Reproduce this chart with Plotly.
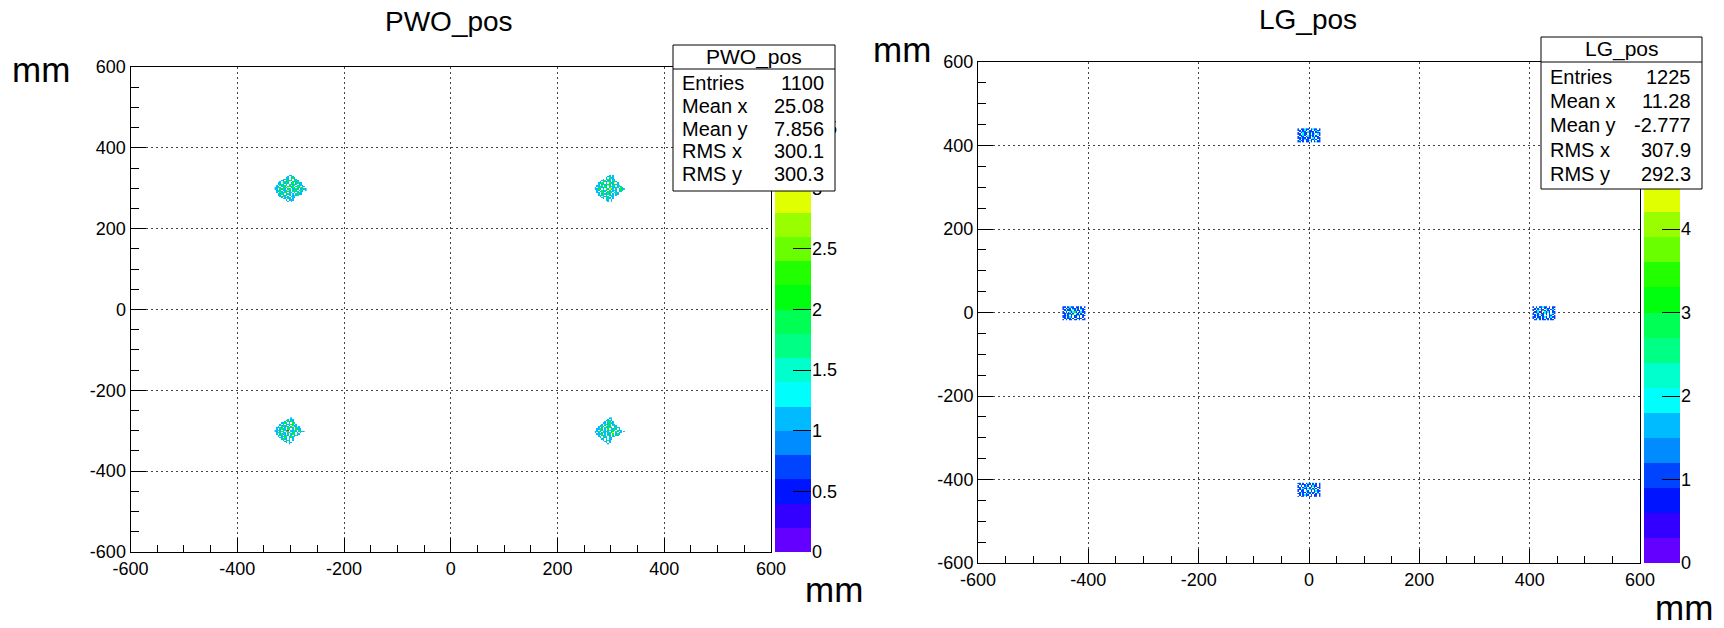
import plotly.graph_objects as go

W, H = 1724, 628
BIN = 3.0  # mm per histogram bin

# ---------------- data ----------------
# Spot patterns: bin counts read (approximately) off the picture, rows top -> bottom, '.' = empty bin
pwo_spot_a = [
    ".........11",
    "........1.21",
    ".......11.121",
    ".....1121.1.11",
    "....11.2121.121",
    "...1.12113.1211",
    "..11.2121.12.1211",
    "..1121.1.21121.11",
    ".1.21121.1312.1211",
    ".11.121.2112.121.11",
    "1121.1213.121.2121.",
    "11.2121.12.1121.1211",
    ".121.11231.121.121.1",
    ".1121.1211.2121.11",
    ".1.21121.11.1.121",
    "..1121.121.1.1211",
    "..11.211.1.1211",
    "...1121.1.211",
    "....1.1211.11",
    ".....11.21.1",
    ".......1.111",
    "........1.1",
]
pwo_spot_b = [
    ".........1.1",
    "........11.1",
    ".......1.211",
    ".....1.121.11",
    "....112.11.21",
    "...1.21121.121",
    "..1121.1.2113.1",
    "..1.121121.1211",
    ".11.2.1131.21.11",
    ".1121.21.1211.121",
    "1.121121.2.1121.21",
    "1121.1.21321.1.1211",
    ".11.2112.1.121.121",
    ".1.1211.2121.1.11",
    ".11.21.1121.121",
    "..1.121121.1.11",
    "..1121.1.121.1",
    "...1.2112.11",
    "....11.211.1",
    ".....1.121.1",
    ".......11.1",
    "........1.1",
]
pwo_spot_c = [
    "..........1",
    "........1.11",
    ".......11.21",
    "......1.2111.",
    "....1121.1.21",
    "...1.1.21121.1",
    "...11211.1.211",
    "..1.21121.1311.1",
    ".1121.1.2121.121",
    ".1.1211.21.1.2111",
    "1121.2114.1121.21.",
    "11.121.12.1121.1211",
    ".121.11.21312.1.1",
    ".1.1211.1.121.11",
    "..121.121.1.121",
    "..1.1121.1211",
    "...11.21.121",
    "....1211.1.1",
    ".....1.121.1",
    "......11.1",
    ".......1.11",
    ".........1",
]
pwo_spot_d = [
    ".........11",
    "........1.1",
    ".......1121",
    "......1.21.1",
    ".....11.1211",
    "....1.2112.11",
    "...11.1.21.121",
    "..1121.2113.11",
    "..1.1.21121.1211",
    ".1121.1.2.1121.1",
    ".1.2131.12121.211",
    "1121.1121.11.21.1.1",
    "1.1.121.1213.1.11",
    ".1121.1.11.2.121",
    "..1.211.21.1.11",
    "..11.121.1.11",
    "...1.211.21",
    "....11.1.11",
    ".....1.121",
    "......11.1",
    ".......1.1",
    "........1",
]
lg_spot_a = [
    "1.11211.1211.1",
    "11.121.11.1211",
    ".1211.2111.12.",
    "1.12113121.111",
    "11.211.1.12.21",
    ".1121.2131.1.1",
    "1.11.121.1211.",
    "11211.11.21.11",
    ".1.1211.1121.1",
    "1211.1121.1.11",
    "11.1.11.1.1211",
]
lg_spot_b = [
    "11.1211.11.1.1",
    "1.121.1121.11.",
    "11.11.21.1.211",
    ".12113.1211.1.",
    "1.1.21231.1211",
    "11211.1.21.1.1",
    ".1.1213.11211.",
    "1121.1.1121.11",
    "11.121.11.1.1.",
    ".1211.1.2111.1",
    "1.1.11.11.1.11",
]
lg_spot_c = [
    "1.1.11211.1.11",
    ".121.1.1211.1.",
    "11.1211.21.121",
    "1.12.131.11.1.",
    ".11216.2121.11",
    "1.21.1121.1.21",
    "11.1231.1.121.",
    ".121.11.2.11.1",
    "11.11.121.1211",
    "1.121.1.11.1.1",
    ".11.1.11.1.11.",
]
lg_spot_d = [
    "11.1.121.1.1.1",
    ".1211.11.121.1",
    "1.1.121.1211.1",
    "11.121.13.1.11",
    ".1.21121.121.1",
    "1121.1.2131.1.",
    "1.11.21.1.1211",
    ".1211.11211.1.",
    "11.1.121.1.121",
    ".1.1211.1.11.1",
    "1.11.1.11.11.1",
]

pwo_centers_x = [-300, 300, -300, 300]
pwo_centers_y = [300, 300, -300, -300]
pwo_spots = [pwo_spot_a, pwo_spot_b, pwo_spot_c, pwo_spot_d]

lg_centers_x = [0, -425, 425, 0]
lg_centers_y = [425, 0, 0, -425]
lg_spots = [lg_spot_a, lg_spot_b, lg_spot_c, lg_spot_d]

axis_tickvals = [-600, -400, -200, 0, 200, 400, 600]
axis_ticktext = ["-600", "-400", "-200", "0", "200", "400", "600"]

pwo_zmax = 4.0
lg_zmax = 6.0
pwo_cb_tickvals = [0, 0.5, 1, 1.5, 2, 2.5, 3, 3.5, 4]
pwo_cb_ticktext = ["0", "0.5", "1", "1.5", "2", "2.5", "3", "3.5", "4"]
lg_cb_tickvals = [0, 1, 2, 3, 4, 5, 6]
lg_cb_ticktext = ["0", "1", "2", "3", "4", "5", "6"]

stats_labels = ["Entries", "Mean x", "Mean y", "RMS x", "RMS y"]
pwo_stats = ["1100", "25.08", "7.856", "300.1", "300.3"]
lg_stats = ["1225", "11.28", "-2.777", "307.9", "292.3"]

# ROOT "pretty" palette, 20 contour levels
palette = [
    "rgb(99,0,255)", "rgb(51,0,255)", "rgb(0,20,255)", "rgb(0,68,255)",
    "rgb(0,139,255)", "rgb(0,187,255)", "rgb(0,255,252)", "rgb(0,255,204)",
    "rgb(0,255,133)", "rgb(0,255,85)", "rgb(0,255,14)", "rgb(34,255,0)",
    "rgb(105,255,0)", "rgb(153,255,0)", "rgb(224,255,0)", "rgb(255,238,0)",
    "rgb(255,167,0)", "rgb(255,119,0)", "rgb(255,48,0)", "rgb(255,0,0)",
]
NLEV = len(palette)

# ---------------- helpers ----------------
FONT = "Liberation Sans, Arial, Helvetica, sans-serif"


def fx(px):
    return px / W


def fy(py):
    return 1 - py / H


def step_scale(colors):
    n = len(colors)
    sc = []
    for i, c in enumerate(colors):
        sc.append([i / n, c])
        sc.append([(i + 1) / n - 1e-6 if i < n - 1 else 1.0, c])
    return sc


def parse(rows):
    ncol = max(len(r) for r in rows)
    grid = []
    for r in reversed(rows):  # heatmap row 0 is the bottom
        r = r.ljust(ncol, ".")
        grid.append([None if ch == "." else int(ch) for ch in r])
    return grid, ncol, len(rows)


def spot_trace(rows, cx, cy, xa, ya, cax):
    z, ncol, nrow = parse(rows)
    x0 = cx - (ncol - 1) / 2 * BIN
    y0 = cy - (nrow - 1) / 2 * BIN
    x0 = round((x0 + 600 - BIN / 2) / BIN) * BIN - 600 + BIN / 2
    y0 = round((y0 + 600 - BIN / 2) / BIN) * BIN - 600 + BIN / 2
    return go.Heatmap(z=z, x0=x0, dx=BIN, y0=y0, dy=BIN, coloraxis=cax,
                      xaxis=xa, yaxis=ya, hoverinfo="skip", zsmooth=False)


def bar_trace(zmax, xa, ya, cax):
    step = zmax / NLEV
    vals = [(i + 0.5) * step for i in range(NLEV)]
    return go.Heatmap(z=[[v] for v in vals], x=[0], y=vals, coloraxis=cax,
                      xaxis=xa, yaxis=ya, hoverinfo="skip")


fig = go.Figure()
for rows, cx, cy in zip(pwo_spots, pwo_centers_x, pwo_centers_y):
    fig.add_trace(spot_trace(rows, cx, cy, "x", "y", "coloraxis"))
for rows, cx, cy in zip(lg_spots, lg_centers_x, lg_centers_y):
    fig.add_trace(spot_trace(rows, cx, cy, "x2", "y2", "coloraxis2"))
fig.add_trace(bar_trace(pwo_zmax, "x3", "y3", "coloraxis"))
fig.add_trace(bar_trace(lg_zmax, "x4", "y4", "coloraxis2"))

# geometry (pixels)
P1 = dict(x=(130.5, 771), y=(67, 552))
P2 = dict(x=(978, 1640), y=(62, 563))
CB1 = (775, 811)
CB2 = (1644, 1680)

GRID = dict(showgrid=True, gridcolor="#444444", gridwidth=1, griddash="2px,3px")
TICKFONT = dict(family=FONT, size=18, color="black")


def main_xaxis(dom, anchor):
    return dict(domain=[fx(dom[0]), fx(dom[1])], range=[-600, 600], anchor=anchor,
                automargin=False,
                tickmode="array", tickvals=axis_tickvals, ticktext=axis_ticktext,
                ticks="inside", ticklen=14, tickwidth=1, tickcolor="black",
                minor=dict(dtick=50, tick0=0, ticks="inside", ticklen=7,
                           tickwidth=1, tickcolor="black", showgrid=False),
                showline=True, mirror=True, linecolor="black", linewidth=1,
                zeroline=False, tickfont=TICKFONT, fixedrange=True, **GRID)


def main_yaxis(dom, anchor):
    return dict(domain=[fy(dom[1]), fy(dom[0])], range=[-600, 600], anchor=anchor,
                automargin=False,
                tickmode="array", tickvals=axis_tickvals, ticktext=axis_ticktext,
                ticks="inside", ticklen=15, tickwidth=1, tickcolor="black",
                minor=dict(dtick=50, tick0=0, ticks="inside", ticklen=8,
                           tickwidth=1, tickcolor="black", showgrid=False),
                showline=True, mirror=True, linecolor="black", linewidth=1,
                zeroline=False, tickfont=TICKFONT, fixedrange=True, **GRID)


def bar_xaxis(dom, anchor):
    return dict(domain=[fx(dom[0]), fx(dom[1])], range=[-0.5, 0.5], anchor=anchor,
                automargin=False, visible=False, fixedrange=True)


def bar_yaxis(dom, anchor, zmax, tv, tt):
    return dict(domain=[fy(dom[1]), fy(dom[0])], range=[0, zmax], anchor=anchor,
                automargin=False,
                side="right", tickmode="array", tickvals=tv, ticktext=tt,
                ticks="inside", ticklen=18, tickwidth=1, tickcolor="black",
                showgrid=False, zeroline=False, showline=False,
                tickfont=TICKFONT, fixedrange=True)


fig.update_layout(
    template="none",
    width=W, height=H, margin=dict(l=0, r=0, t=0, b=0, pad=0, autoexpand=False),
    paper_bgcolor="white", plot_bgcolor="white", showlegend=False,
    font=dict(family=FONT, color="black"),
    xaxis=main_xaxis(P1["x"], "y"), yaxis=main_yaxis(P1["y"], "x"),
    xaxis2=main_xaxis(P2["x"], "y2"), yaxis2=main_yaxis(P2["y"], "x2"),
    xaxis3=bar_xaxis(CB1, "y3"),
    yaxis3=bar_yaxis(P1["y"], "x3", pwo_zmax, pwo_cb_tickvals, pwo_cb_ticktext),
    xaxis4=bar_xaxis(CB2, "y4"),
    yaxis4=bar_yaxis(P2["y"], "x4", lg_zmax, lg_cb_tickvals, lg_cb_ticktext),
    coloraxis=dict(colorscale=step_scale(palette), cmin=0, cmax=pwo_zmax, showscale=False),
    coloraxis2=dict(colorscale=step_scale(palette), cmin=0, cmax=lg_zmax, showscale=False),
)

annotations = []
shapes = []


def txt(text, x, y, size, xanchor="center"):
    annotations.append(dict(text=text, x=fx(x), y=fy(y), xref="paper", yref="paper",
                            xanchor=xanchor, yanchor="middle", showarrow=False,
                            font=dict(family=FONT, size=size, color="black")))


# titles and axis unit labels
txt("PWO_pos", 449, 22, 28)
txt("LG_pos", 1308, 20, 28)
txt("mm", 41, 70, 35)
txt("mm", 834, 589, 35)
txt("mm", 902, 49, 35)
txt("mm", 1684, 607, 35)


def stats_box(title, values, x0, x1, y0, y1, ysep, ytitle, yrows):
    shapes.append(dict(type="rect", xref="paper", yref="paper", x0=fx(x0), x1=fx(x1),
                       y0=fy(y1), y1=fy(y0), fillcolor="white",
                       line=dict(color="black", width=1), layer="above"))
    shapes.append(dict(type="line", xref="paper", yref="paper", x0=fx(x0), x1=fx(x1),
                       y0=fy(ysep), y1=fy(ysep), line=dict(color="black", width=1),
                       layer="above"))
    txt(title, (x0 + x1) / 2, ytitle, 21)
    for lab, val, yy in zip(stats_labels, values, yrows):
        txt(lab, x0 + 7, yy, 20, "left")
        txt(val, x1 - 9, yy, 20, "right")


stats_box("PWO_pos", pwo_stats, 673, 835, 45, 191, 69,
          57, [83, 105.8, 128.6, 151.4, 174.2])
stats_box("LG_pos", lg_stats, 1541, 1702, 37, 189, 62,
          49, [77, 101.2, 125.4, 149.6, 173.8])

fig.update_layout(annotations=annotations, shapes=shapes)
fig.write_html(
    "out.html",
    config={"displayModeBar": False},
    post_script="document.body.style.margin='0px';document.body.style.overflow='hidden';",
)
